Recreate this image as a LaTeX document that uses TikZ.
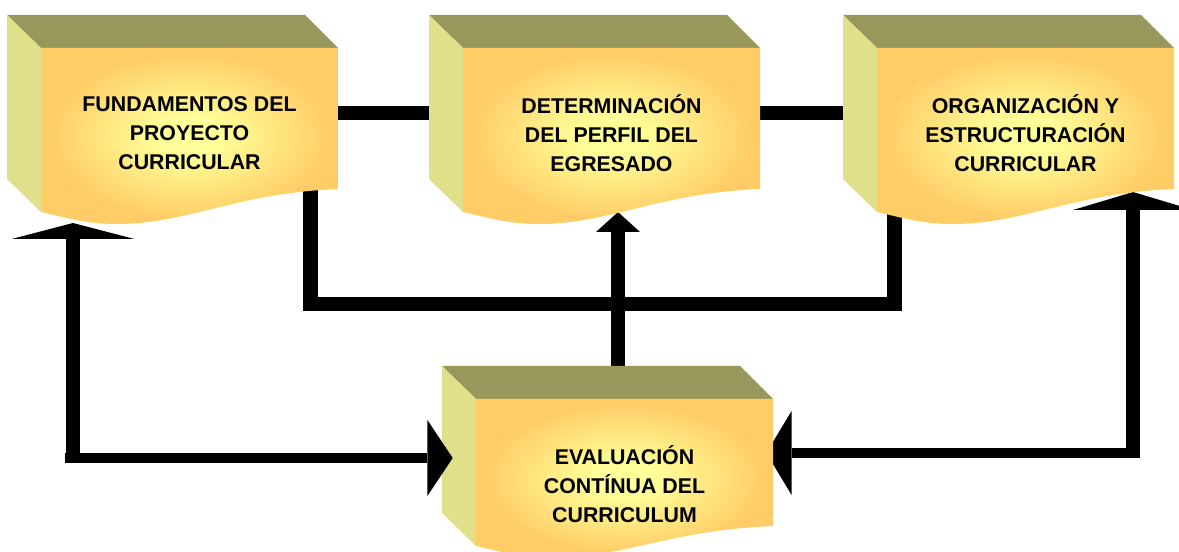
\documentclass[tikz,border=0pt]{standalone}
\usepackage{fontspec}
\setmainfont{Liberation Sans}
\usepackage{tikz}
\usetikzlibrary{arrows.meta}
\usetikzlibrary{calc}
\usetikzlibrary{backgrounds}

\definecolor{cardtop}{RGB}{153,152,92}
\definecolor{cardside}{RGB}{224,224,138}
\definecolor{cardorange}{RGB}{255,204,102}
\definecolor{cardlight}{RGB}{255,255,153}
\pgfdeclareradialshading{cardglow}{\pgfpoint{0bp}{0bp}}{color(0bp)=(cardlight); color(5bp)=(cardlight); color(24bp)=(cardorange); color(50bp)=(cardorange)}

\begin{document}
\begin{tikzpicture}[x=0.75pt,y=0.75pt,yscale=-1,xscale=1,
  topface/.style={fill=cardtop},
  sideface/.style={fill=cardside},
  frontface/.style={shading=cardglow},
  cardtext/.style={font=\bfseries\fontsize{16}{22}\selectfont, align=center, inner sep=0pt, minimum width=222.75pt},
  bar/.style={line width=11pt},
  thinbar/.style={line width=8pt}]
\useasboundingbox (0,0) rectangle (1179,552);

%Box: Fundamentos [id:card1]
\begin{scope}[shift={(7,15)}]
\fill[topface] (0,0) -- (298,0) -- (331,33) -- (34,33) -- cycle ;
\fill[sideface] (0,0) -- (34,33) -- (34,197) -- (0,164) -- cycle ;
\shade[frontface] (34,33) -- (331,33) -- (331,174) .. controls (230,178) and (180,209) .. (110,209) .. controls (80,209) and (60,203) .. (34,197) -- cycle ;
\node[cardtext] (fund) at (182.5,118) {FUNDAMENTOS DEL\\PROYECTO\\CURRICULAR};
\end{scope}
%Box: Perfil [id:card2]
\begin{scope}[shift={(429,15)}]
\fill[topface] (0,0) -- (298,0) -- (331,33) -- (34,33) -- cycle ;
\fill[sideface] (0,0) -- (34,33) -- (34,197) -- (0,164) -- cycle ;
\shade[frontface] (34,33) -- (331,33) -- (331,174) .. controls (230,178) and (180,209) .. (110,209) .. controls (80,209) and (60,203) .. (34,197) -- cycle ;
\node[cardtext] (perfil) at (182.5,118) {DETERMINACIÓN\\DEL PERFIL DEL\\EGRESADO};
\end{scope}
%Box: Organizacion [id:card3]
\begin{scope}[shift={(843,15)}]
\fill[topface] (0,0) -- (298,0) -- (331,33) -- (34,33) -- cycle ;
\fill[sideface] (0,0) -- (34,33) -- (34,197) -- (0,164) -- cycle ;
\shade[frontface] (34,33) -- (331,33) -- (331,174) .. controls (230,178) and (180,209) .. (110,209) .. controls (80,209) and (60,203) .. (34,197) -- cycle ;
\node[cardtext] (org) at (182.5,118) {ORGANIZACIÓN Y\\ESTRUCTURACIÓN\\CURRICULAR};
\end{scope}
%Box: Evaluacion [id:card4]
\begin{scope}[shift={(442,366)}]
\fill[topface] (0,0) -- (298,0) -- (331,33) -- (34,33) -- cycle ;
\fill[sideface] (0,0) -- (34,33) -- (34,180) -- (0,147) -- cycle ;
\shade[frontface] (34,33) -- (331,33) -- (331,160) .. controls (230,164) and (180,192) .. (110,192) .. controls (80,192) and (60,186) .. (34,180) -- cycle ;
\node[cardtext] (eval) at (182.5,118) {EVALUACIÓN\\CONTÍNUA DEL\\CURRICULUM};
\end{scope}

\coordinate (junc) at (618,304);
\coordinate (lcorner) at (73,458);
\coordinate (rcorner) at (1133,453);
\coordinate (ptip) at ($(perfil)+(0,79)$);
\coordinate (ftip) at ($(fund)+(0,90)$);
\coordinate (otip) at ($(org)+(0,59)$);
\coordinate (etipl) at ($(eval.west)+(-23,0)$);
\coordinate (etipr) at ($(eval.east)+(-7,0)$);

\begin{pgfonlayer}{background}
%Straight Lines [id:bar1]
\draw[bar] ($(fund.east)+(0,-20)$) -- ($(perfil.west)+(0,-20)$) ;
%Straight Lines [id:bar2]
\draw[bar] ($(perfil.east)+(0,-20)$) -- ($(org.west)+(0,-20)$) ;
%Bracket [id:bar3]
\draw[bar] ($(fund.east)+(-28,40)$) |- (junc) -| ($(org.west)+(18,40)$) ;
%Up Arrow [id:arr1]
\draw[bar,-{Triangle[length=15pt,width=33pt,line width=0pt]}] (junc |- eval) -- (junc |- ptip) ;
%Left Arrow [id:arr2]
\draw[bar,-{Triangle[length=12pt,width=92pt,line width=0pt]},shorten <=-4pt] (lcorner) -- (lcorner |- ftip) ;
%Right Arrow [id:arr3]
\draw[bar,-{Triangle[length=13.5pt,width=90pt,line width=0pt]},shorten <=-4pt] (rcorner) -- (rcorner |- otip) ;
\draw[thinbar,-{Triangle[length=19pt,width=63pt,line width=0pt]},shorten <=-5pt] (rcorner) -- (rcorner -| etipr) ;
\end{pgfonlayer}
\draw[thinbar,-{Triangle[length=19pt,width=57pt,line width=0pt]},shorten <=-6pt] (lcorner) -- (lcorner -| etipl) ;

\end{tikzpicture}
\end{document}
